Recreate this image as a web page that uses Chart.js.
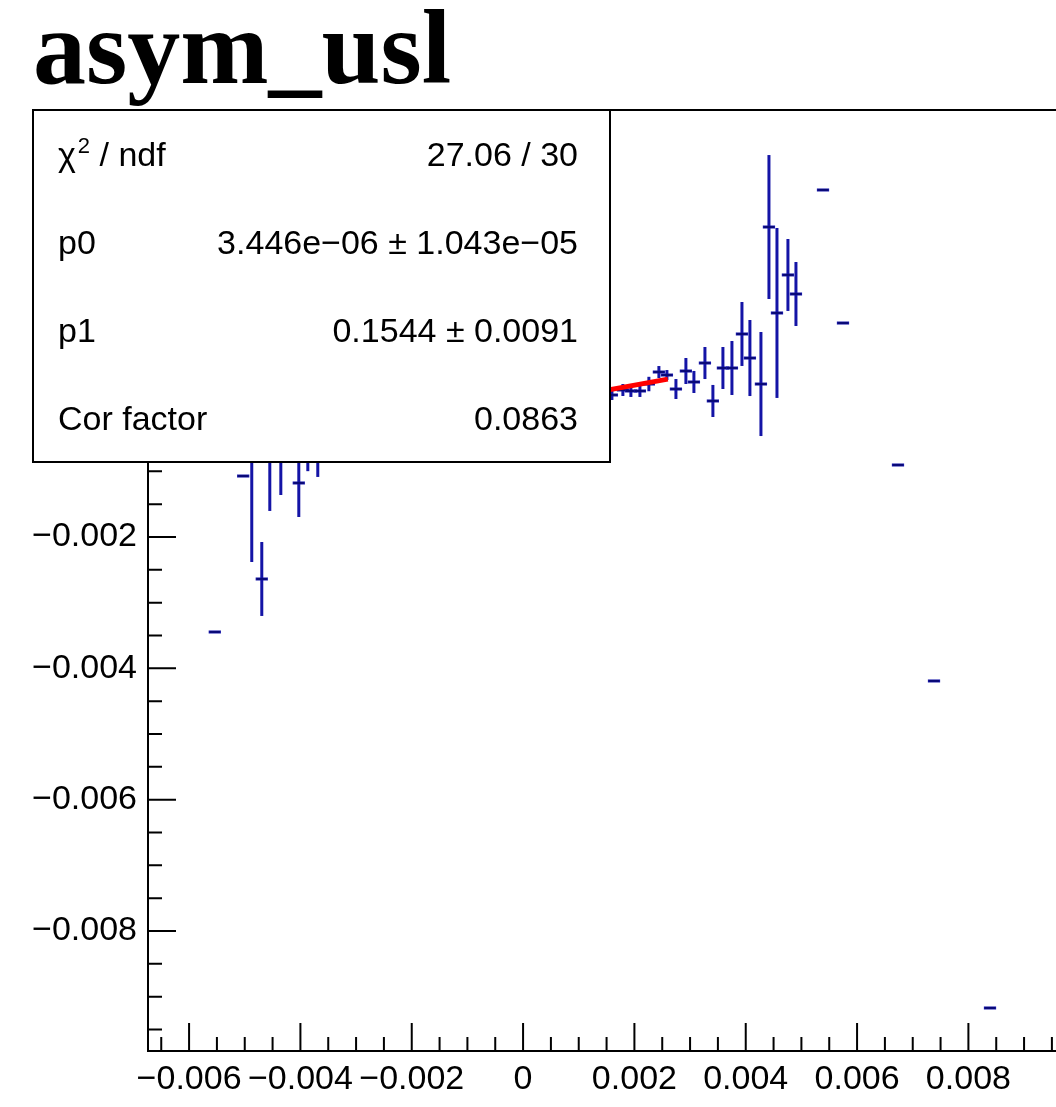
<!DOCTYPE html>
<html>
<head>
<meta charset="utf-8">
<script src="https://cdn.jsdelivr.net/npm/chart.js@4.4.1/dist/chart.umd.min.js"></script>
<style>
  html, body { margin: 0; padding: 0; background: #fff; overflow: hidden; }
  canvas { display: block; }
</style>
</head>
<body>
<canvas id="plot" width="1110" height="1107"></canvas>
<script>
// ---- histogram content -------------------------------------------------
const histTitle = 'asym_usl';

// bin centres
const xValues = [
  -0.005538, -0.005028, -0.004874, -0.004694, -0.004550, -0.004352, -0.004029, -0.003867, -0.003688,
  -0.00352, -0.00336, -0.00320, -0.00304, -0.00288, -0.00272, -0.00256, -0.00240, -0.00224, -0.00208,
  -0.00192, -0.00176, -0.00160, -0.00144, -0.00128, -0.00112, -0.00096, -0.00080, -0.00064, -0.00048,
  -0.00032, -0.00016, 0.00000, 0.00016, 0.00032, 0.00048, 0.00064, 0.00080, 0.00096, 0.00112, 0.00128, 0.00144,
  0.001596, 0.001793, 0.001937, 0.002099, 0.002260, 0.002440, 0.002584, 0.002746, 0.002925, 0.003069,
  0.003267, 0.003410, 0.003590, 0.003752, 0.003932, 0.004075, 0.004273, 0.004417, 0.004561, 0.004758,
  0.004902, 0.005388, 0.005747, 0.006735, 0.007382, 0.008388
];
// mean asymmetry per bin
const yValues = [
  -0.003446, -0.001071, -0.000522, -0.002639, -0.000522, -0.000294, -0.001177, -0.000449, -0.000522,
  -0.00052, -0.00047, -0.00055, -0.00041, -0.00049, -0.00040, -0.00037, -0.00039, -0.00033, -0.00034,
  -0.00027, -0.00029, -0.00023, -0.00024, -0.00018, -0.00019, -0.00014, -0.00012, -0.00011, -0.00007,
  -0.00005, -0.00003, 0.00001, 0.00003, 0.00005, 0.00008, 0.00009, 0.00013, 0.00015, 0.00016, 0.00021, 0.00022,
  0.000163, 0.000239, 0.000224, 0.000224, 0.000330, 0.000513, 0.000467, 0.000254, 0.000528, 0.000361,
  0.000650, 0.000072, 0.000574, 0.000574, 0.001092, 0.000726, 0.000330, 0.002721, 0.001412, 0.001991,
  0.001701, 0.003285, 0.001259, -0.000903, -0.004192, -0.009172
];
// error on the mean
const yErrors = [
  0, 0, 0.001858, 0.000563, 0.001081, 0.001066, 0.000518, 0.000548, 0.000563,
  0.00028, 0.00026, 0.00022, 0.00019, 0.00016, 0.00014, 0.00012, 0.00010, 0.00009, 0.00008,
  0.00007, 0.00006, 0.00006, 0.00005, 0.00005, 0.00004, 0.00004, 0.00004, 0.00004, 0.00003,
  0.00003, 0.00003, 0.00003, 0.00003, 0.00003, 0.00004, 0.00004, 0.00004, 0.00004, 0.00005, 0.00005, 0.00005,
  0.000076, 0.000091, 0.000091, 0.000091, 0.000110, 0.000091, 0.000076, 0.000152, 0.000198, 0.000168,
  0.000244, 0.000244, 0.000320, 0.000411, 0.000487, 0.000579, 0.000792, 0.001096, 0.001294, 0.000548,
  0.000487, 0, 0, 0, 0, 0
];
const xHalfWidth = 0.00011;

// pol1 fit result
const fitP0 = 3.446e-06;
const fitP1 = 0.1544;
const fitRange = [-0.0026, 0.0026];

// statistics box rows
const statLabels = ['χ2 / ndf', 'p0', 'p1', 'Cor factor'];
const statValues = ['27.06 / 30', '3.446e\u221206 \u00b1 1.043e\u221205', '0.1544 \u00b1 0.0091', '0.0863'];

// axis ranges and labelled ticks
const xRange = [-0.006738, 0.0104];
const yRange = [-0.009827, 0.004503];
const xTickValues = [-0.006, -0.004, -0.002, 0, 0.002, 0.004, 0.006, 0.008];
const xTickLabels = ['\u22120.006', '\u22120.004', '\u22120.002', '0', '0.002', '0.004', '0.006', '0.008'];
const yTickValues = [-0.008, -0.006, -0.004, -0.002, 0, 0.002, 0.004];
const yTickLabels = ['\u22120.008', '\u22120.006', '\u22120.004', '\u22120.002', '0', '0.002', '0.004'];
const minorStep = 0.0005;

// ---- styling ------------------------------------------------------------
const BAR_COLOR = '#1414a6';
const BAR_CORE = '#00004a';
const FIT_COLOR = '#ff0000';
const SANS = '"Liberation Sans", Arial, Helvetica, sans-serif';
const SERIF = '"Liberation Serif", "Times New Roman", serif';

const points = xValues.map((x, i) => ({ x, y: yValues[i], yErr: yErrors[i] }));
const fitLine = fitRange.map(x => ({ x, y: fitP0 + fitP1 * x }));

function stepTicks(min, max) {
  const out = [];
  const start = Math.ceil(min / minorStep - 1e-9);
  const end = Math.floor(max / minorStep + 1e-9);
  for (let k = start; k <= end; k++) out.push({ value: +(k * minorStep).toFixed(6) });
  return out;
}
function labelFor(values, labels, v) {
  const i = values.findIndex(t => Math.abs(t - v) < 1e-9);
  return i >= 0 ? labels[i] : '';
}
function isMajor(v) {
  return Math.abs(v / 0.002 - Math.round(v / 0.002)) < 1e-6;
}

// error bars: vertical error plus horizontal bin half-width
const errorBarPlugin = {
  id: 'errorBars',
  beforeDatasetsDraw(chart) {
    const { ctx, chartArea: a, scales: { x, y } } = chart;
    ctx.save();
    ctx.beginPath();
    ctx.rect(a.left, a.top, a.right - a.left, a.bottom - a.top);
    ctx.clip();
    ctx.lineCap = 'butt';
    chart.data.datasets[0].data.forEach(p => {
      const px = x.getPixelForValue(p.x);
      const py = y.getPixelForValue(p.y);
      if (p.yErr > 0) {
        ctx.strokeStyle = BAR_COLOR;
        ctx.lineWidth = 3;
        ctx.beginPath();
        ctx.moveTo(px, y.getPixelForValue(p.y + p.yErr));
        ctx.lineTo(px, y.getPixelForValue(p.y - p.yErr));
        ctx.stroke();
      }
      const x0 = x.getPixelForValue(p.x - xHalfWidth);
      const x1 = x.getPixelForValue(p.x + xHalfWidth);
      ctx.strokeStyle = BAR_COLOR;
      ctx.lineWidth = 3;
      ctx.beginPath(); ctx.moveTo(x0, py); ctx.lineTo(x1, py); ctx.stroke();
      ctx.strokeStyle = BAR_CORE;
      ctx.lineWidth = 1;
      ctx.beginPath(); ctx.moveTo(x0 + 1, py); ctx.lineTo(x1 - 1, py); ctx.stroke();
    });
    ctx.restore();
  }
};

// frame with inward tick marks
const framePlugin = {
  id: 'frame',
  afterDatasetsDraw(chart) {
    const { ctx, chartArea: a, scales: { x, y } } = chart;
    ctx.save();
    ctx.strokeStyle = '#000';
    ctx.lineWidth = 2;
    ctx.strokeRect(a.left, a.top, a.right - a.left, a.bottom - a.top);
    ctx.beginPath();
    x.ticks.forEach(t => {
      const px = x.getPixelForValue(t.value);
      const len = isMajor(t.value) ? 28 : 14;
      ctx.moveTo(px, a.bottom);
      ctx.lineTo(px, a.bottom - len);
    });
    y.ticks.forEach(t => {
      const py = y.getPixelForValue(t.value);
      const len = isMajor(t.value) ? 28 : 14;
      ctx.moveTo(a.left, py);
      ctx.lineTo(a.left + len, py);
    });
    ctx.stroke();
    ctx.restore();
  }
};

// title and fit statistics box
const annotationPlugin = {
  id: 'annotations',
  afterDraw(chart) {
    const { ctx } = chart;
    ctx.save();
    // title
    ctx.fillStyle = '#000';
    ctx.font = 'bold 106px ' + SERIF;
    ctx.textAlign = 'left';
    ctx.textBaseline = 'alphabetic';
    ctx.fillText(histTitle, 33, 83);

    // stats box
    const bx = 33, by = 110, bw = 577, bh = 352;
    ctx.fillStyle = '#fff';
    ctx.fillRect(bx, by, bw, bh);
    ctx.strokeStyle = '#000';
    ctx.lineWidth = 2;
    ctx.strokeRect(bx, by, bw, bh);

    const rowH = bh / statLabels.length;
    ctx.fillStyle = '#000';
    ctx.font = '34px ' + SANS;
    statLabels.forEach((lab, i) => {
      const base = by + rowH * i + rowH / 2 + 12;
      ctx.textAlign = 'left';
      if (lab.startsWith('χ2')) {
        let cx = 58;
        ctx.font = '34px ' + SANS;
        ctx.fillText('χ', cx, base);
        cx += ctx.measureText('χ').width + 2;
        ctx.font = '22px ' + SANS;
        ctx.fillText('2', cx, base - 13);
        cx += ctx.measureText('2').width;
        ctx.font = '34px ' + SANS;
        ctx.fillText(lab.slice(2), cx, base);
      } else {
        ctx.fillText(lab, 58, base);
      }
      ctx.textAlign = 'right';
      ctx.fillText(statValues[i], 578, base);
    });
    ctx.restore();
  }
};

new Chart(document.getElementById('plot'), {
  type: 'scatter',
  data: {
    datasets: [
      { label: 'data', data: points, pointRadius: 0, showLine: false },
      { type: 'line', label: 'fit', data: fitLine, borderColor: FIT_COLOR, borderWidth: 5,
        pointRadius: 0, fill: false, tension: 0 }
    ]
  },
  options: {
    responsive: false,
    devicePixelRatio: 1,
    animation: false,
    events: [],
    layout: { padding: { top: 110, right: 8, left: 0, bottom: 0 } },
    plugins: { legend: { display: false }, tooltip: { enabled: false }, title: { display: false } },
    scales: {
      x: {
        type: 'linear', min: xRange[0], max: xRange[1],
        grid: { display: false, drawTicks: false }, border: { display: false },
        afterBuildTicks: s => { s.ticks = stepTicks(xRange[0], xRange[1]); },
        afterFit: s => { s.height = 56; },
        ticks: {
          autoSkip: false, maxRotation: 0, minRotation: 0, padding: 8, color: '#000',
          font: { family: SANS, size: 34 },
          callback: v => labelFor(xTickValues, xTickLabels, v)
        }
      },
      y: {
        type: 'linear', min: yRange[0], max: yRange[1],
        grid: { display: false, drawTicks: false }, border: { display: false },
        afterBuildTicks: s => { s.ticks = stepTicks(yRange[0], yRange[1]); },
        afterFit: s => { s.width = 148; },
        ticks: {
          autoSkip: false, padding: 11, color: '#000',
          font: { family: SANS, size: 34 },
          callback: v => labelFor(yTickValues, yTickLabels, v)
        }
      }
    }
  },
  plugins: [errorBarPlugin, framePlugin, annotationPlugin]
});
</script>
</body>
</html>
